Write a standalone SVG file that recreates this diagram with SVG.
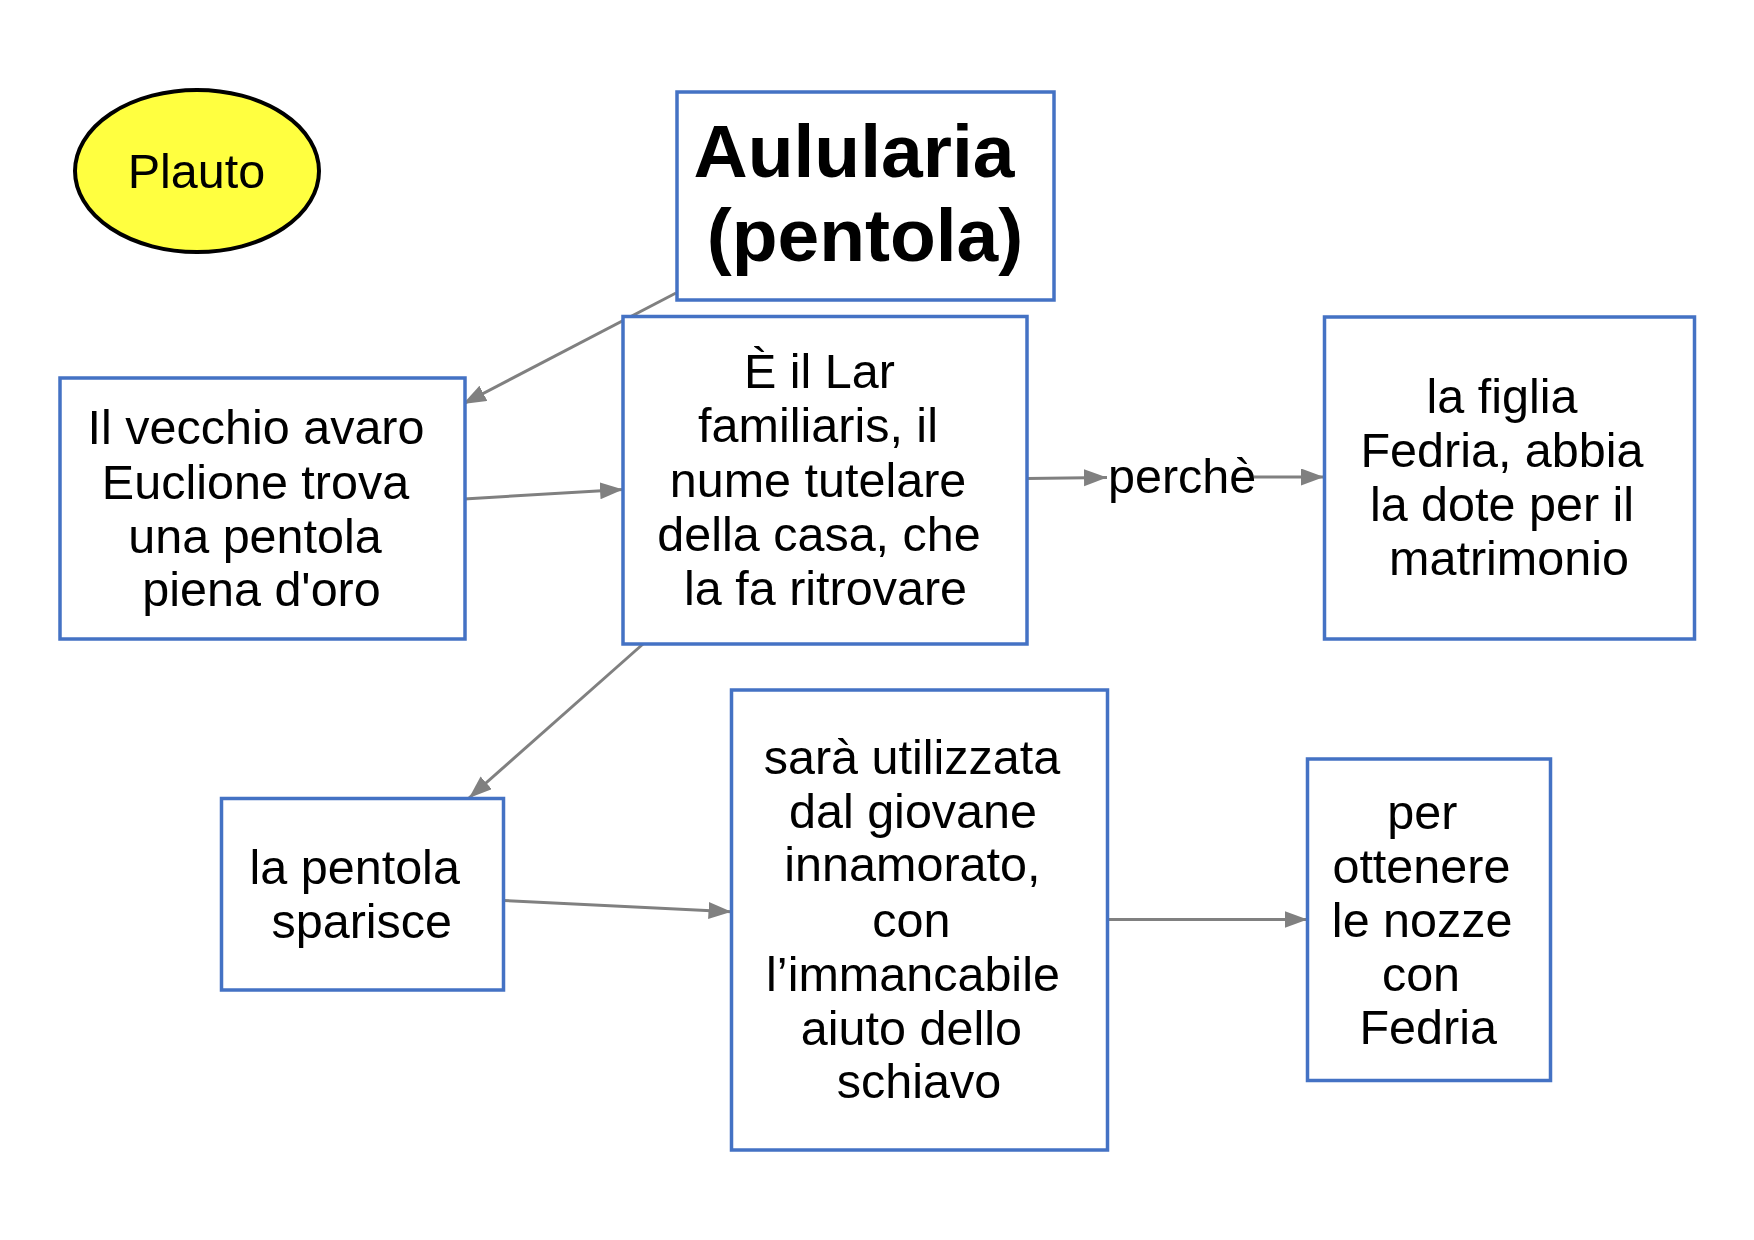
<svg xmlns="http://www.w3.org/2000/svg" width="1754" height="1240" viewBox="0 0 1754 1240">
  <style>
    .box { fill: #ffffff; stroke: #4472c4; stroke-width: 3.5; }
    .t { font-family: "Liberation Sans", Arial, sans-serif; font-size: 48.5px; fill: #000000; text-anchor: middle; }
    .title { font-family: "Liberation Sans", Arial, sans-serif; font-size: 75px; font-weight: bold; fill: #000000; text-anchor: middle; }
    .edge { fill: none; stroke: #808080; stroke-width: 3; }
  </style>
  <defs>
    <marker id="arrow" markerUnits="userSpaceOnUse" markerWidth="24" markerHeight="18" refX="23" refY="8.5" orient="auto">
      <path d="M0,0 L23,8.5 L0,17 z" fill="#808080"/>
    </marker>
  </defs>
  <rect width="1754" height="1240" fill="#ffffff"/>

  <g id="connectors">
    <line class="edge" x1="676" y1="293" x2="463" y2="404" marker-end="url(#arrow)"/>
    <line class="edge" x1="464" y1="499" x2="623" y2="489.5" marker-end="url(#arrow)"/>
    <line class="edge" x1="1027" y1="478.5" x2="1107" y2="477.5" marker-end="url(#arrow)"/>
    <line class="edge" x1="1254" y1="477" x2="1324" y2="477" marker-end="url(#arrow)"/>
    <line class="edge" x1="643" y1="644" x2="469" y2="798" marker-end="url(#arrow)"/>
    <line class="edge" x1="504" y1="900.5" x2="731.5" y2="911.7" marker-end="url(#arrow)"/>
    <line class="edge" x1="1107.5" y1="919.5" x2="1307.5" y2="919.5" marker-end="url(#arrow)"/>
  </g>

  <g id="node-plauto">
    <ellipse cx="197" cy="171" rx="122" ry="81" fill="#ffff40" stroke="#000000" stroke-width="4"/>
    <text class="t" x="196.5" y="188">Plauto</text>
  </g>

  <g id="node-aulularia">
    <rect class="box" x="677" y="92" width="377" height="208"/>
    <text class="title" x="854" y="177">Aulularia</text>
    <text class="title" x="865" y="261">(pentola)</text>
  </g>

  <g id="node-vecchio">
    <rect class="box" x="60" y="378" width="405" height="261"/>
    <text class="t" x="256" y="444">Il vecchio avaro</text>
    <text class="t" x="255.5" y="498.5">Euclione trova</text>
    <text class="t" x="255" y="552.5">una pentola</text>
    <text class="t" x="261.5" y="606">piena d'oro</text>
  </g>

  <g id="node-lar">
    <rect class="box" x="623" y="316.5" width="404" height="327.5"/>
    <text class="t" x="819.5" y="387.5">È il Lar</text>
    <text class="t" x="818" y="442">familiaris, il</text>
    <text class="t" x="818" y="496.5">nume tutelare</text>
    <text class="t" x="819" y="550.5">della casa, che</text>
    <text class="t" x="825.5" y="605">la fa ritrovare</text>
  </g>

  <g id="label-perche">
    <text class="t" x="1108" y="492.5" style="text-anchor: start">perchè</text>
  </g>

  <g id="node-figlia">
    <rect class="box" x="1324.5" y="317" width="370" height="322"/>
    <text class="t" x="1502" y="413">la figlia</text>
    <text class="t" x="1502" y="467">Fedria, abbia</text>
    <text class="t" x="1502" y="521">la dote per il</text>
    <text class="t" x="1509" y="575">matrimonio</text>
  </g>

  <g id="node-sparisce">
    <rect class="box" x="221.5" y="798.5" width="282" height="191.5"/>
    <text class="t" x="354.7" y="883.5">la pentola</text>
    <text class="t" x="361.8" y="937.5">sparisce</text>
  </g>

  <g id="node-sara">
    <rect class="box" x="731.5" y="690" width="376" height="460"/>
    <text class="t" x="912" y="773.5">sarà utilizzata</text>
    <text class="t" x="913" y="827.5">dal giovane</text>
    <text class="t" x="912.4" y="881.3">innamorato,</text>
    <text class="t" x="911.4" y="937">con</text>
    <text class="t" x="913" y="990.6">l’immancabile</text>
    <text class="t" x="911.4" y="1044.6">aiuto dello</text>
    <text class="t" x="919" y="1098.3">schiavo</text>
  </g>

  <g id="node-ottenere">
    <rect class="box" x="1307.5" y="759" width="243" height="321.5"/>
    <text class="t" x="1422.4" y="829">per</text>
    <text class="t" x="1421.4" y="882.7">ottenere</text>
    <text class="t" x="1422.2" y="937">le nozze</text>
    <text class="t" x="1421" y="990.5">con</text>
    <text class="t" x="1428.2" y="1044">Fedria</text>
  </g>
</svg>
